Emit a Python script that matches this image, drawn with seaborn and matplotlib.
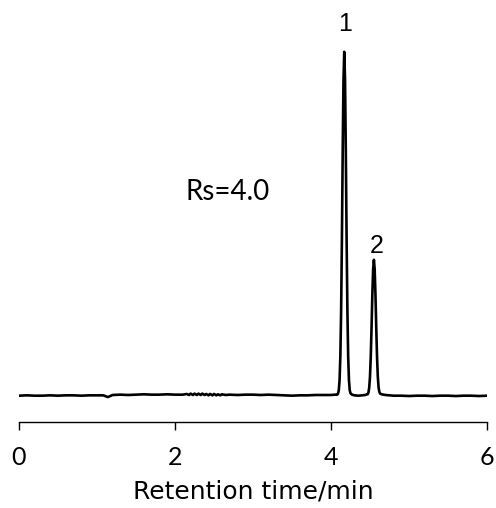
import matplotlib
matplotlib.use("Agg")
import matplotlib.pyplot as plt
import seaborn as sns

# chromatogram trace (time in min, signal in % of peak 1)
time = [0.00, 0.10, 0.20, 0.30, 0.40, 0.50, 0.60, 0.70, 0.80, 0.90,
        1.00, 1.08, 1.14, 1.20, 1.30, 1.40, 1.50, 1.60, 1.70, 1.80,
        1.90, 2.00, 2.10, 2.15, 2.18, 2.20, 2.23, 2.25, 2.28, 2.30,
        2.33, 2.35, 2.38, 2.40, 2.43, 2.45, 2.48, 2.50, 2.53, 2.55,
        2.58, 2.60, 2.65, 2.70, 2.80, 2.90, 3.00, 3.10, 3.20, 3.30,
        3.40, 3.50, 3.60, 3.70, 3.80, 3.90, 4.00, 4.05,
        4.08, 4.09, 4.10, 4.11, 4.12, 4.13, 4.14, 4.15, 4.16, 4.17,
        4.18, 4.19, 4.20, 4.21, 4.22, 4.23, 4.24, 4.25, 4.27, 4.30,
        4.35, 4.40, 4.44, 4.46, 4.47, 4.48, 4.49, 4.50, 4.51, 4.52,
        4.53, 4.54, 4.55, 4.56, 4.57, 4.58, 4.59, 4.60, 4.61, 4.62,
        4.63, 4.65, 4.70, 4.80, 4.90, 5.00, 5.10, 5.20, 5.30, 5.40,
        5.50, 5.60, 5.70, 5.80, 5.90, 6.00]
signal = [-0.2, -0.1, -0.2, -0.2, -0.1, -0.2, -0.1, -0.1, -0.2, -0.1,
          -0.1, -0.1, -0.6, 0.0, 0.1, 0.0, 0.1, 0.2, 0.1, 0.1,
          0.2, 0.1, 0.1, 0.3, 0.0, 0.4, 0.0, 0.4, 0.0, 0.4,
          0.0, 0.4, 0.0, 0.3, -0.1, 0.3, -0.1, 0.3, -0.1, 0.2,
          -0.1, 0.2, 0.0, 0.1, 0.0, 0.1, 0.1, 0.0, 0.1, 0.0,
          -0.1, -0.2, -0.1, -0.1, 0.0, 0.0, 0.0, 0.1,
          0.1, 0.4, 1.4, 4.4, 11.4, 24.9, 45.8, 70.7, 91.7, 100.0,
          91.7, 70.7, 45.8, 24.9, 11.4, 4.4, 1.4, 0.5, 0.1, -0.1,
          -0.2, -0.1, 0.0, 0.2, 0.2, 0.7, 2.2, 5.4, 11.3, 19.8,
          29.2, 36.6, 39.4, 36.6, 29.2, 19.8, 11.3, 5.4, 2.2, 0.9,
          0.4, 0.2, 0.0, -0.2, -0.2, -0.3, -0.2, -0.2, -0.3, -0.2,
          -0.2, -0.3, -0.2, -0.2, -0.3, -0.2]

x_ticks = [0, 2, 4, 6]
peak_labels = ["1", "2"]
peak_label_pos = [(4.18, 108.2), (4.585, 43.4)]
rs_text = "Rs=4.0"

sns.set_style("ticks")
plt.rcParams['font.family'] = ['Lato', 'DejaVu Sans']
plt.rcParams['text.color'] = 'black'

fig = plt.figure(figsize=(4.96, 5.08), dpi=100)
ax = fig.add_axes([19 / 496, (508 - 422) / 508, 468 / 496, 412 / 508])

sns.lineplot(x=time, y=signal, ax=ax, color='black', linewidth=1.9,
             estimator=None, sort=False)

ax.set_xlim(0, 6)
ax.set_ylim(-7.87, 112.2)
ax.set_yticks([])
ax.set_xticks(x_ticks)
ax.set_xticklabels([str(t) for t in x_ticks])
ax.tick_params(axis='x', direction='out', length=6, width=1, pad=11,
               labelsize=18, colors='black', labelcolor='black')
for side in ['left', 'top', 'right']:
    ax.spines[side].set_visible(False)
ax.spines['bottom'].set_linewidth(1)
ax.spines['bottom'].set_color('black')
ax.set_xlabel('Retention time/min', fontsize=18, labelpad=8,
              color='black', family=['DejaVu Sans'])

for lab, (px, py) in zip(peak_labels, peak_label_pos):
    ax.text(px, py, lab, ha='center', va='center', fontsize=18,
            color='black', family=['Liberation Sans', 'DejaVu Sans'])
ax.text(2.68, 59.2, rs_text, ha='center', va='center', fontsize=20,
        color='black')

fig.savefig('out.png', dpi=100)
